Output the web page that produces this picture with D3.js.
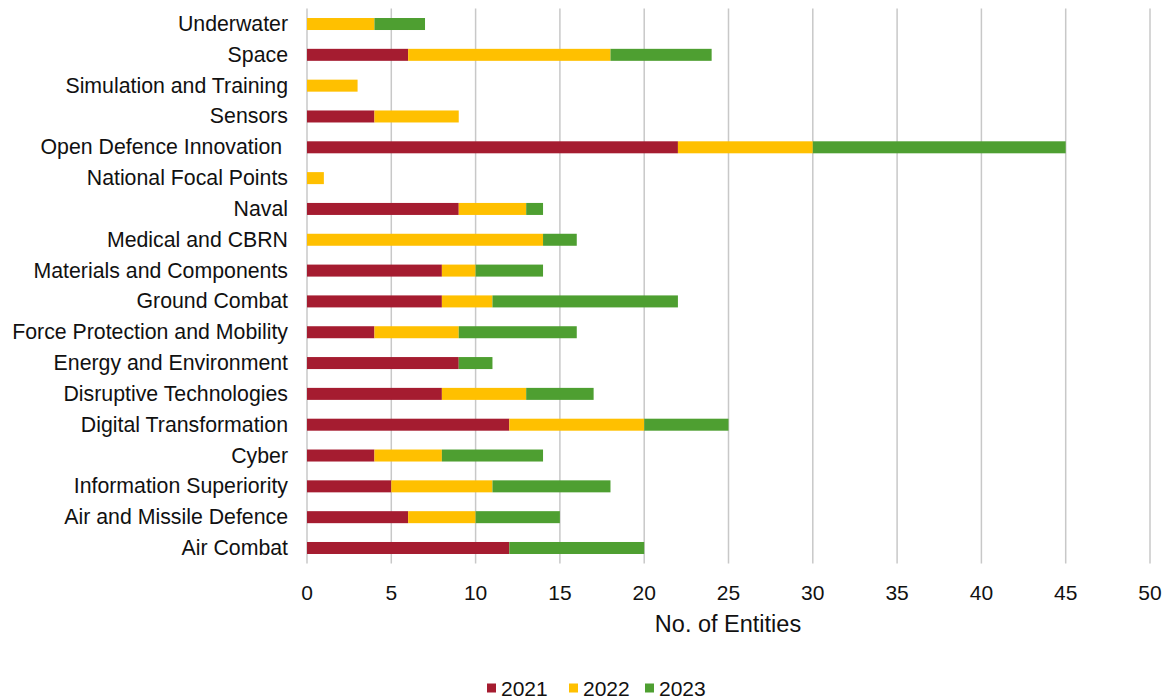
<!DOCTYPE html>
<html><head><meta charset="utf-8">
<script src="https://cdn.jsdelivr.net/npm/d3@7"></script>
<style>body{margin:0;background:#fff;font-family:"Liberation Sans",Arial,sans-serif;} text{white-space:pre;}</style>
</head><body><svg id="c" width="1170" height="699"></svg>
<script>
const categories = ["Underwater","Space","Simulation and Training","Sensors","Open Defence Innovation ","National Focal Points","Naval","Medical and CBRN","Materials and Components","Ground Combat","Force Protection and Mobility","Energy and Environment","Disruptive Technologies","Digital Transformation","Cyber","Information Superiority","Air and Missile Defence","Air Combat"];
const series = ["2021","2022","2023"];
const v2021 = [0,6,0,4,22,0,9,0,8,8,4,9,8,12,4,5,6,12];
const v2022 = [4,12,3,5,8,1,4,14,2,3,5,0,5,8,4,6,4,0];
const v2023 = [3,6,0,0,15,0,1,2,4,11,7,2,4,5,6,7,5,8];
const xTicks = [0,5,10,15,20,25,30,35,40,45,50];
const colors = ["#A51C30","#FFC000","#4E9F31"];

const svg = d3.select("#c");
const x = d3.scaleLinear().domain([0,50]).range([307,1150]);
const band = d3.scaleBand().domain(categories).range([8.6,563.4]);

// grid
svg.append("g").selectAll("line").data(xTicks).join("line")
  .attr("x1",d=>x(d)).attr("x2",d=>x(d))
  .attr("y1",band.range()[0]).attr("y2",band.range()[1])
  .attr("stroke","#c8c8c8").attr("stroke-width",1.5);

const data = categories.map((c,i)=>({cat:c,"2021":v2021[i],"2022":v2022[i],"2023":v2023[i]}));
const stack = d3.stack().keys(series)(data);
const bh = 12;
svg.append("g").selectAll("g").data(stack).join("g")
  .attr("fill",(d,i)=>colors[i])
  .selectAll("rect").data(d=>d.filter(p=>p[1]>p[0])).join("rect")
  .attr("x",d=>x(d[0])).attr("width",d=>x(d[1])-x(d[0]))
  .attr("y",d=>band(d.data.cat)+band.bandwidth()/2-bh/2).attr("height",bh);

// category labels
svg.append("g").selectAll("text").data(categories).join("text")
  .attr("x",288).attr("y",d=>band(d)+band.bandwidth()/2)
  .attr("text-anchor","end").attr("dominant-baseline","central")
  .attr("font-size",21.3).attr("fill","#111").text(d=>d);

// x tick labels
svg.append("g").selectAll("text").data(xTicks).join("text")
  .attr("x",d=>x(d)).attr("y",592).attr("text-anchor","middle")
  .attr("dominant-baseline","central").attr("font-size",21).attr("fill","#111").text(d=>d);

svg.append("text").attr("x",728).attr("y",624).attr("text-anchor","middle")
  .attr("dominant-baseline","central").attr("font-size",23.5).attr("fill","#111").text("No. of Entities");

// legend
const lx = [487,569,645];
const lg = svg.append("g").selectAll("g").data(series).join("g")
  .attr("transform",(d,i)=>`translate(${lx[i]},688)`);
lg.append("rect").attr("x",0).attr("y",-4.5).attr("width",9).attr("height",9).attr("fill",(d,i)=>colors[i]);
lg.append("text").attr("x",14).attr("y",0).attr("dominant-baseline","central")
  .attr("font-size",21).attr("fill","#111").text(d=>d);
</script></body></html>
